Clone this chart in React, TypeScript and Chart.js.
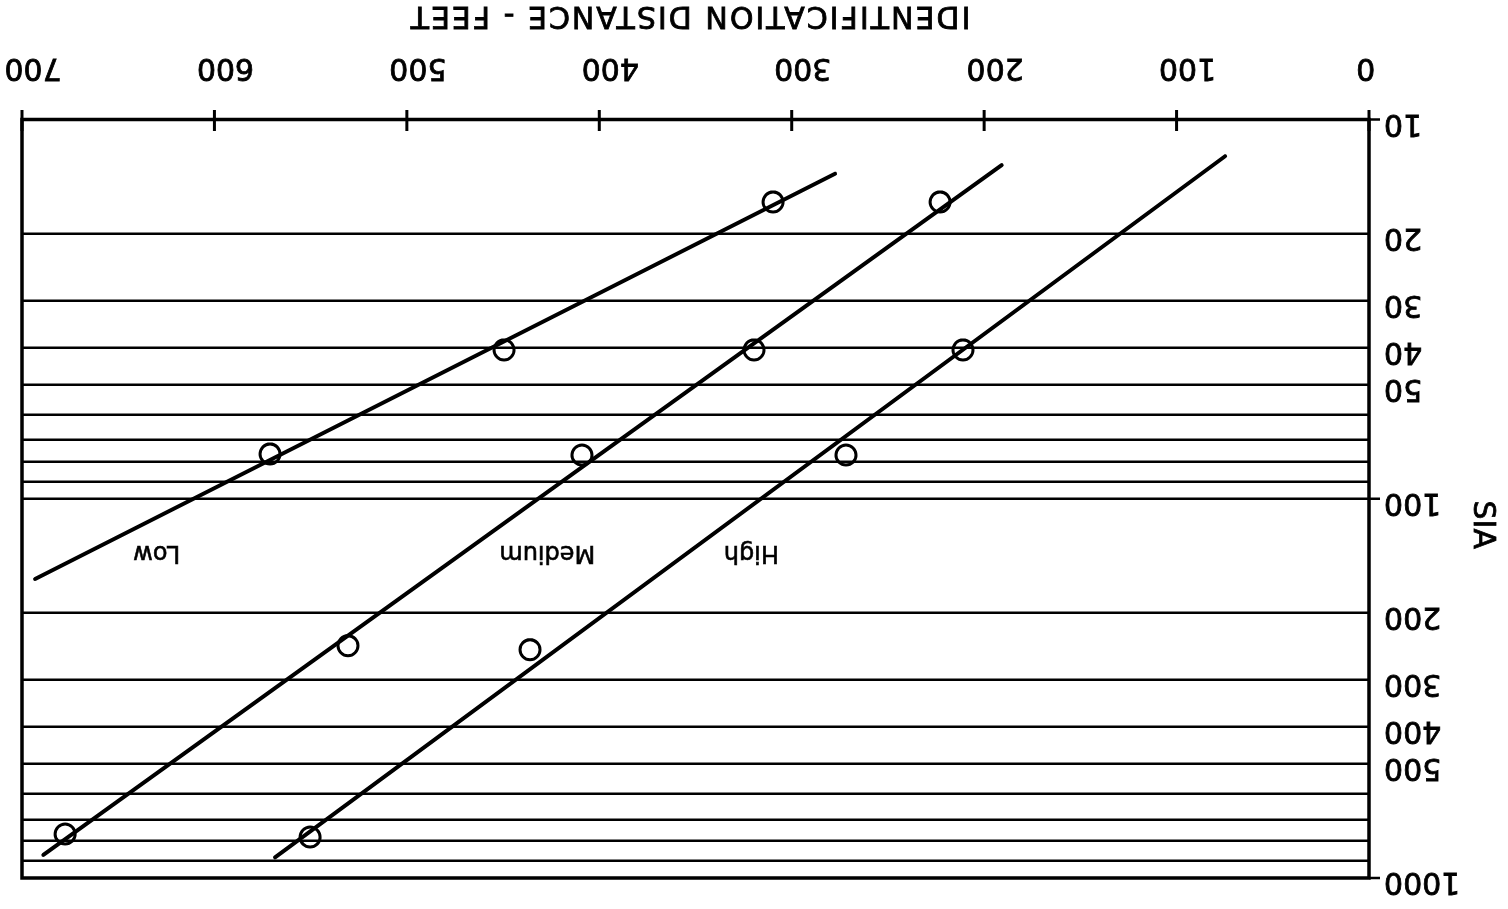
import React, { useEffect, useRef } from "react";
import { Chart, registerables } from "chart.js";

Chart.register(...registerables);

// ---- Data ----
const distanceTicks = [0, 100, 200, 300, 400, 500, 600, 700];
const siaGridValues = [10, 20, 30, 40, 50, 60, 70, 80, 90, 100, 200, 300, 400, 500, 600, 700, 800, 900, 1000];
const siaLabeledValues = [10, 20, 30, 40, 50, 100, 200, 300, 400, 500, 1000];
const siaMajorTicks = [10, 100, 1000];

const lowObsX = [309.7, 449.5, 571.1];
const lowObsY = [16.5, 40.5, 76.2];
const mediumObsX = [222.9, 319.6, 409.0, 530.6, 677.6];
const mediumObsY = [16.5, 40.5, 76.7, 244, 766];
const highObsX = [211.0, 271.8, 436.0, 550.3];
const highObsY = [40.5, 76.7, 250, 780];

const lowFitX = [277.5, 693.2];
const lowFitY = [13.9, 162.8];
const mediumFitX = [190.9, 688.9];
const mediumFitY = [13.2, 869.6];
const highFitX = [74.8, 568.5];
const highFitY = [12.5, 882];

const curveLabels = ["Low", "Medium", "High"];
const curveLabelX = [630, 427, 321];
const curveLabelY = [140, 140, 140];

const xAxisTitle = "IDENTIFICATION DISTANCE - FEET";
const yAxisTitle = "SIA";

const FONT = "'DejaVu Sans', sans-serif";

const toPoints = (xs: number[], ys: number[]) => xs.map((x, i) => ({ x, y: ys[i] }));

const fitDataset = (xs: number[], ys: number[]) => ({
  data: toPoints(xs, ys),
  showLine: true,
  borderColor: "#000",
  borderWidth: 4,
  borderCapStyle: "round" as const,
  pointRadius: 0,
  fill: false,
});

const obsDataset = (xs: number[], ys: number[]) => ({
  data: toPoints(xs, ys),
  showLine: false,
  pointRadius: 10,
  pointBorderWidth: 3,
  pointBorderColor: "#000",
  pointBackgroundColor: "rgba(0,0,0,0)",
});

const drawText = (ctx: CanvasRenderingContext2D, t: string, x: number, y: number) => {
  ctx.fillText(t, x, y);
  ctx.strokeText(t, x, y);
};

const decorPlugin = {
  id: "decor",
  afterDatasetsDraw(chart: any) {
    const { ctx, chartArea: a, scales } = chart;
    const xs = scales.x;
    const ys = scales.y;
    ctx.save();
    ctx.strokeStyle = "#000";
    ctx.fillStyle = "#000";
    // frame
    ctx.lineWidth = 3.5;
    ctx.strokeRect(a.left, a.top, a.right - a.left, a.bottom - a.top);
    // x tick marks crossing the axis
    ctx.lineWidth = 3;
    distanceTicks.forEach((v) => {
      const px = xs.getPixelForValue(v);
      ctx.beginPath();
      ctx.moveTo(px, a.bottom - 11.5);
      ctx.lineTo(px, a.bottom + 9.5);
      ctx.stroke();
    });
    // y major tick marks outward
    ctx.lineWidth = 2.5;
    siaMajorTicks.forEach((v) => {
      const py = ys.getPixelForValue(v);
      ctx.beginPath();
      ctx.moveTo(a.left - 11, py);
      ctx.lineTo(a.left, py);
      ctx.stroke();
    });
    // curve labels
    ctx.lineWidth = 0.6;
    ctx.font = `24px ${FONT}`;
    ctx.textAlign = "center";
    ctx.textBaseline = "middle";
    curveLabels.forEach((t, i) => {
      drawText(ctx, t, xs.getPixelForValue(curveLabelX[i]), ys.getPixelForValue(curveLabelY[i]) + 1.5);
    });
    // x axis title
    ctx.lineWidth = 0.8;
    ctx.font = `30px ${FONT}`;
    (ctx as any).letterSpacing = "2px";
    drawText(ctx, xAxisTitle, (a.left + a.right) / 2 + 6, chart.height - 15);
    (ctx as any).letterSpacing = "0px";
    // y axis title
    ctx.translate(26, (a.top + a.bottom) / 2 - 26);
    ctx.rotate(-Math.PI / 2);
    drawText(ctx, yAxisTitle, 0, 0);
    ctx.restore();
  },
};

export default function App() {
  const ref = useRef<HTMLCanvasElement>(null);

  useEffect(() => {
    if (!ref.current) return;
    const chart = new Chart(ref.current, {
      type: "scatter",
      data: {
        datasets: [
          fitDataset(lowFitX, lowFitY),
          fitDataset(mediumFitX, mediumFitY),
          fitDataset(highFitX, highFitY),
          obsDataset(lowObsX, lowObsY),
          obsDataset(mediumObsX, mediumObsY),
          obsDataset(highObsX, highObsY),
        ] as any,
      },
      options: {
        responsive: false,
        animation: false,
        devicePixelRatio: 1,
        layout: { padding: { top: 31, right: 22, left: 0, bottom: 0 } },
        plugins: {
          legend: { display: false },
          tooltip: { enabled: false },
          title: { display: false },
        },
        scales: {
          x: {
            type: "linear",
            position: "bottom",
            min: 0,
            max: 700,
            grid: { display: false },
            border: { display: false },
            afterBuildTicks: (s: any) => {
              s.ticks = distanceTicks.map((v) => ({ value: v }));
            },
            ticks: {
              autoSkip: false,
              maxRotation: 0,
              color: "#000",
              textStrokeColor: "#000",
              textStrokeWidth: 0.8,
              padding: 30,
              labelOffset: -11,
              font: { family: FONT, size: 30, lineHeight: 1 },
              callback: (v: any) => (Number(v) === 0 ? "   0" : String(v)),
            },
            afterFit: (s: any) => {
              s.height = 119.5;
              s.paddingLeft = 0;
              s.paddingRight = 0;
            },
          },
          y: {
            type: "logarithmic",
            position: "left",
            min: 10,
            max: 1000,
            afterBuildTicks: (s: any) => {
              s.ticks = siaGridValues.map((v) => ({ value: v }));
            },
            grid: {
              drawTicks: false,
              lineWidth: 2.5,
              color: (c: any) =>
                c.tick && (c.tick.value === 10 || c.tick.value === 1000) ? "rgba(0,0,0,0)" : "#000",
            },
            border: { display: false },
            ticks: {
              autoSkip: false,
              color: "#000",
              textStrokeColor: "#000",
              textStrokeWidth: 0.8,
              padding: 15,
              labelOffset: -3,
              font: { family: FONT, size: 30, lineHeight: 1 },
              callback: (v: any) => (siaLabeledValues.includes(Number(v)) ? String(v) : ""),
            },
            afterFit: (s: any) => {
              s.width = 139;
              s.paddingTop = 0;
              s.paddingBottom = 0;
            },
          },
        },
      } as any,
      plugins: [decorPlugin],
    });
    return () => chart.destroy();
  }, []);

  return (
    <div
      style={{
        position: "absolute",
        left: 0,
        top: 0,
        width: 1508,
        height: 909,
        background: "#fff",
        transform: "rotate(180deg)",
      }}
    >
      <canvas ref={ref} width={1508} height={909} style={{ display: "block" }} />
    </div>
  );
}
